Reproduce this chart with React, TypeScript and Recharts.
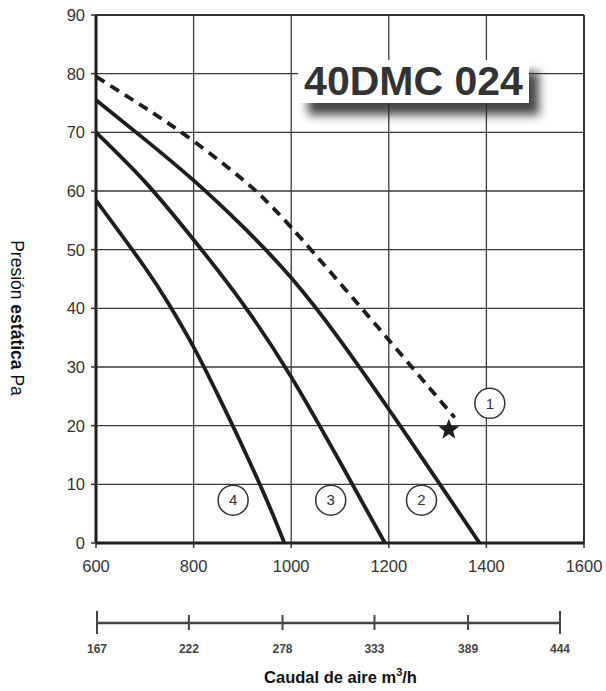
import React from 'react';
import {
  ComposedChart,
  LineChart,
  Line,
  Scatter,
  XAxis,
  YAxis,
  CartesianGrid,
  ReferenceDot,
  ReferenceLine
} from 'recharts';

// caudal (m3/h) / presión (Pa)
const flowTicks = [600, 800, 1000, 1200, 1400, 1600];
const pressureTicks = [0, 10, 20, 30, 40, 50, 60, 70, 80, 90];

const curve1Flow = [600, 700, 800, 900, 950, 1000, 1100, 1200, 1300, 1335];
const curve1Pressure = [79.5, 74.2, 68.5, 62, 58.2, 53.8, 44.3, 34.6, 24.8, 21.4];

const curve2Flow = [600, 700, 800, 900, 1000, 1100, 1200, 1300, 1386];
const curve2Pressure = [75.5, 68.8, 61.8, 54, 45.2, 34.6, 22.8, 10.6, 0];

const curve3Flow = [600, 700, 800, 900, 1000, 1100, 1192];
const curve3Pressure = [70, 61.6, 51.7, 40.9, 28.3, 13.8, 0];

const curve4Flow = [600, 700, 750, 800, 850, 900, 950, 986];
const curve4Pressure = [58.4, 47, 40.6, 33.4, 25.2, 16.5, 7.3, 0];

const starFlow = [1323];
const starPressure = [19.3];

const curveLabels = ['1', '2', '3', '4'];
const curveLabelFlow = [1407, 1267, 1081, 881];
const curveLabelPressure = [23.8, 7.3, 7.3, 7.3];

const m3hTicks = [167, 222, 278, 333, 389, 444];

const FONT = '"Liberation Sans", Arial, sans-serif';

const toPoints = (xs: number[], ys: number[]) =>
  xs.map((x, i) => ({ flow: x, pressure: ys[i] }));

const StarShape = (props: any) => {
  const { cx, cy } = props;
  const outer = 11;
  const inner = 4.6;
  const pts: string[] = [];
  for (let i = 0; i < 10; i++) {
    const r = i % 2 === 0 ? outer : inner;
    const a = -Math.PI / 2 + (i * Math.PI) / 5;
    pts.push(`${cx + r * Math.cos(a)},${cy + r * Math.sin(a)}`);
  }
  return <polygon points={pts.join(' ')} fill="#1e1e1e" />;
};

const YLabel = () => {
  const x = 17;
  const y = 318;
  return (
    <text
      x={x}
      y={y}
      transform={`rotate(90, ${x}, ${y})`}
      textAnchor="middle"
      dominantBaseline="central"
      fontFamily={FONT}
      fontSize={17.5}
      fill="#111"
    >
      <tspan>Presión </tspan>
      <tspan fontWeight="bold">estática</tspan>
      <tspan> Pa</tspan>
    </text>
  );
};

const M3hTick = (props: any) => {
  const { x, y, payload, index } = props;
  const isEnd = index === 0 || index === m3hTicks.length - 1;
  const h = isEnd ? 12 : 8;
  return (
    <g>
      <line x1={x} x2={x} y1={y - h} y2={y + h - 1} stroke="#444" strokeWidth={2} />
      <text
        x={x}
        y={y + 30}
        textAnchor="middle"
        fontFamily={FONT}
        fontWeight="bold"
        fontSize={12}
        fill="#444"
      >
        {payload.value}
      </text>
    </g>
  );
};

const M3hLabel = (props: any) => {
  const { viewBox } = props;
  const cx = viewBox.x + viewBox.width / 2 + 12;
  return (
    <text
      x={cx}
      y={viewBox.y + 60}
      textAnchor="middle"
      fontFamily={FONT}
      fontWeight="bold"
      fontSize={16.5}
      fill="#111"
    >
      <tspan>Caudal de aire m</tspan>
      <tspan fontSize={11} dy={-7}>3</tspan>
      <tspan dy={7}>/h</tspan>
    </text>
  );
};

const App: React.FC = () => {
  const curve1 = toPoints(curve1Flow, curve1Pressure);
  const curve2 = toPoints(curve2Flow, curve2Pressure);
  const curve3 = toPoints(curve3Flow, curve3Pressure);
  const curve4 = toPoints(curve4Flow, curve4Pressure);
  const star = toPoints(starFlow, starPressure);
  const m3hData = m3hTicks.map(v => ({ v, y: 0 }));

  const lineProps = {
    dataKey: 'pressure',
    stroke: '#1e1e1e',
    strokeWidth: 3.8,
    dot: false,
    type: 'natural' as const,
    isAnimationActive: false
  };

  return (
    <div
      style={{
        position: 'absolute',
        left: 0,
        top: 0,
        width: 606,
        height: 691,
        background: '#fff',
        fontFamily: FONT
      }}
    >
      <div style={{ position: 'absolute', left: 0, top: 0 }}>
        <ComposedChart
          width={606}
          height={590}
          margin={{ top: 15, right: 22, bottom: 0, left: 0 }}
        >
          <CartesianGrid stroke="#3a3a3a" strokeWidth={1.3} />
          <XAxis
            dataKey="flow"
            type="number"
            domain={[600, 1600]}
            ticks={flowTicks}
            height={47}
            allowDataOverflow
            axisLine={{ stroke: '#1e1e1e', strokeWidth: 3 }}
            tickLine={{ stroke: '#333', strokeWidth: 1.5 }}
            tickSize={5}
            tickMargin={12}
            tick={{ fill: '#333', fontSize: 16.5, fontFamily: FONT }}
          />
          <YAxis
            type="number"
            domain={[0, 90]}
            ticks={pressureTicks}
            width={96}
            allowDataOverflow
            axisLine={{ stroke: '#1e1e1e', strokeWidth: 3 }}
            tickLine={{ stroke: '#333', strokeWidth: 1.5 }}
            tickSize={5}
            tickMargin={6}
            tick={{ fill: '#333', fontSize: 16.5, fontFamily: FONT }}
            label={<YLabel />}
          />
          <ReferenceLine y={90} stroke="#333" strokeWidth={2} />
          <ReferenceLine x={1600} stroke="#333" strokeWidth={2} />
          <Line data={curve1} {...lineProps} strokeDasharray="10 7" />
          <Line data={curve2} {...lineProps} />
          <Line data={curve3} {...lineProps} />
          <Line data={curve4} {...lineProps} />
          <Scatter
            data={star}
            dataKey="pressure"
            shape={<StarShape />}
            isAnimationActive={false}
          />
          {curveLabels.map((t, i) => (
            <ReferenceDot
              key={t}
              x={curveLabelFlow[i]}
              y={curveLabelPressure[i]}
              r={15}
              fill="#fff"
              stroke="#333"
              strokeWidth={1.5}
              label={{
                value: t,
                position: 'center',
                fill: '#333',
                fontSize: 15,
                fontFamily: FONT
              }}
            />
          ))}
        </ComposedChart>
      </div>

      <div
        style={{
          position: 'absolute',
          left: 298,
          top: 60,
          width: 231,
          height: 43,
          background: '#fff',
          boxShadow: '10px 12px 9px rgba(40,40,40,0.85)',
          display: 'flex',
          alignItems: 'center',
          justifyContent: 'center',
          fontFamily: FONT,
          fontWeight: 'bold',
          fontSize: 41,
          color: '#333',
          lineHeight: '43px',
          whiteSpace: 'nowrap'
        }}
      >
        40DMC 024
      </div>

      <div style={{ position: 'absolute', left: 0, top: 590 }}>
        <LineChart
          width={606}
          height={101}
          data={m3hData}
          margin={{ top: 33, right: 46, bottom: 0, left: 97 }}
        >
          <XAxis
            dataKey="v"
            type="number"
            domain={[167, 444]}
            ticks={m3hTicks}
            height={68}
            axisLine={{ stroke: '#444', strokeWidth: 2.5 }}
            tickLine={false}
            tickSize={0}
            tickMargin={0}
            tick={<M3hTick />}
            label={<M3hLabel />}
          />
          <YAxis hide domain={[0, 1]} />
          <Line dataKey="y" stroke="none" dot={false} isAnimationActive={false} />
        </LineChart>
      </div>
    </div>
  );
};

export default App;
